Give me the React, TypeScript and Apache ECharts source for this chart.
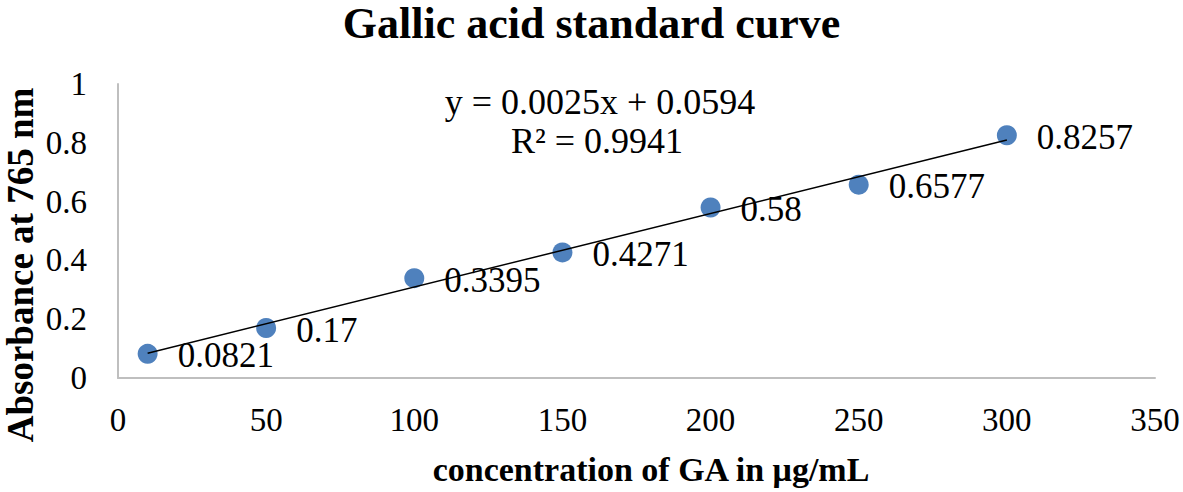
import React, { useEffect, useRef } from "react";
import * as echarts from "echarts";

const concentrations = [10, 50, 100, 150, 200, 250, 300];
const absorbance = [0.0821, 0.17, 0.3395, 0.4271, 0.58, 0.6577, 0.8257];
const slope = 0.0025;
const intercept = 0.0594;
const trendX = [10, 300];
const equationText = "y = 0.0025x + 0.0594";
const r2Text = "R² = 0.9941";

const FONT = "'Liberation Serif', 'Times New Roman', serif";

export default function App() {
  const ref = useRef<HTMLDivElement>(null);
  useEffect(() => {
    document.body.style.margin = "0";
    const chart = echarts.init(ref.current!, null, { renderer: "svg" });
    const pts = concentrations.map((x, i) => [x, absorbance[i]]);
    const trend = trendX.map((x) => [x, slope * x + intercept]);
    chart.setOption({
      animation: false,
      backgroundColor: "#ffffff",
      textStyle: { fontFamily: FONT },
      title: {
        text: "Gallic acid standard curve",
        left: "center",
        top: -4,
        textStyle: { fontFamily: FONT, fontWeight: "bold", fontSize: 44, color: "#000" },
      },
      grid: { left: 118, right: 28, top: 84, bottom: 114 },
      xAxis: {
        type: "value",
        min: 0,
        max: 350,
        interval: 50,
        axisLine: { show: true, lineStyle: { color: "#bfbfbf", width: 2 } },
        axisTick: { show: false },
        splitLine: { show: false },
        axisLabel: { fontFamily: FONT, fontSize: 33, color: "#000", margin: 25 },
      },
      yAxis: {
        type: "value",
        min: 0,
        max: 1,
        interval: 0.2,
        axisLine: { show: true, lineStyle: { color: "#bfbfbf", width: 2 } },
        axisTick: { show: false },
        splitLine: { show: false },
        axisLabel: { fontFamily: FONT, fontSize: 33, color: "#000", margin: 31 },
      },
      graphic: [
        {
          type: "text",
          x: 20,
          y: 265,
          rotation: Math.PI / 2,
          style: {
            text: "Absorbance at 765 nm",
            font: `bold 37px ${FONT}`,
            fill: "#000",
            textAlign: "center",
            textVerticalAlign: "middle",
          },
        },
        {
          type: "text",
          x: 651,
          y: 469,
          style: {
            text: "concentration of GA in μg/mL",
            font: `bold 34px ${FONT}`,
            fill: "#000",
            textAlign: "center",
            textVerticalAlign: "middle",
          },
        },
        {
          type: "text",
          x: 600,
          y: 102,
          style: {
            text: equationText,
            font: `36px ${FONT}`,
            fill: "#000",
            textAlign: "center",
            textVerticalAlign: "middle",
          },
        },
        {
          type: "text",
          x: 597,
          y: 141,
          style: {
            text: r2Text,
            font: `36px ${FONT}`,
            fill: "#000",
            textAlign: "center",
            textVerticalAlign: "middle",
          },
        },
      ],
      series: [
        {
          type: "line",
          data: trend,
          symbol: "none",
          lineStyle: { color: "#000", width: 1.5 },
          z: 3,
          silent: true,
        },
        {
          type: "scatter",
          data: pts,
          symbol: "circle",
          symbolSize: 20,
          itemStyle: { color: "#4f81bd", opacity: 1 },
          z: 2,
          label: {
            show: true,
            position: "right",
            distance: 20,
            offset: [0, 2],
            fontFamily: FONT,
            fontSize: 35,
            color: "#000",
            formatter: (p: any) => String(p.value[1]),
          },
        },
      ],
    });
    return () => chart.dispose();
  }, []);
  return <div ref={ref} style={{ width: 1183, height: 492 }} />;
}
